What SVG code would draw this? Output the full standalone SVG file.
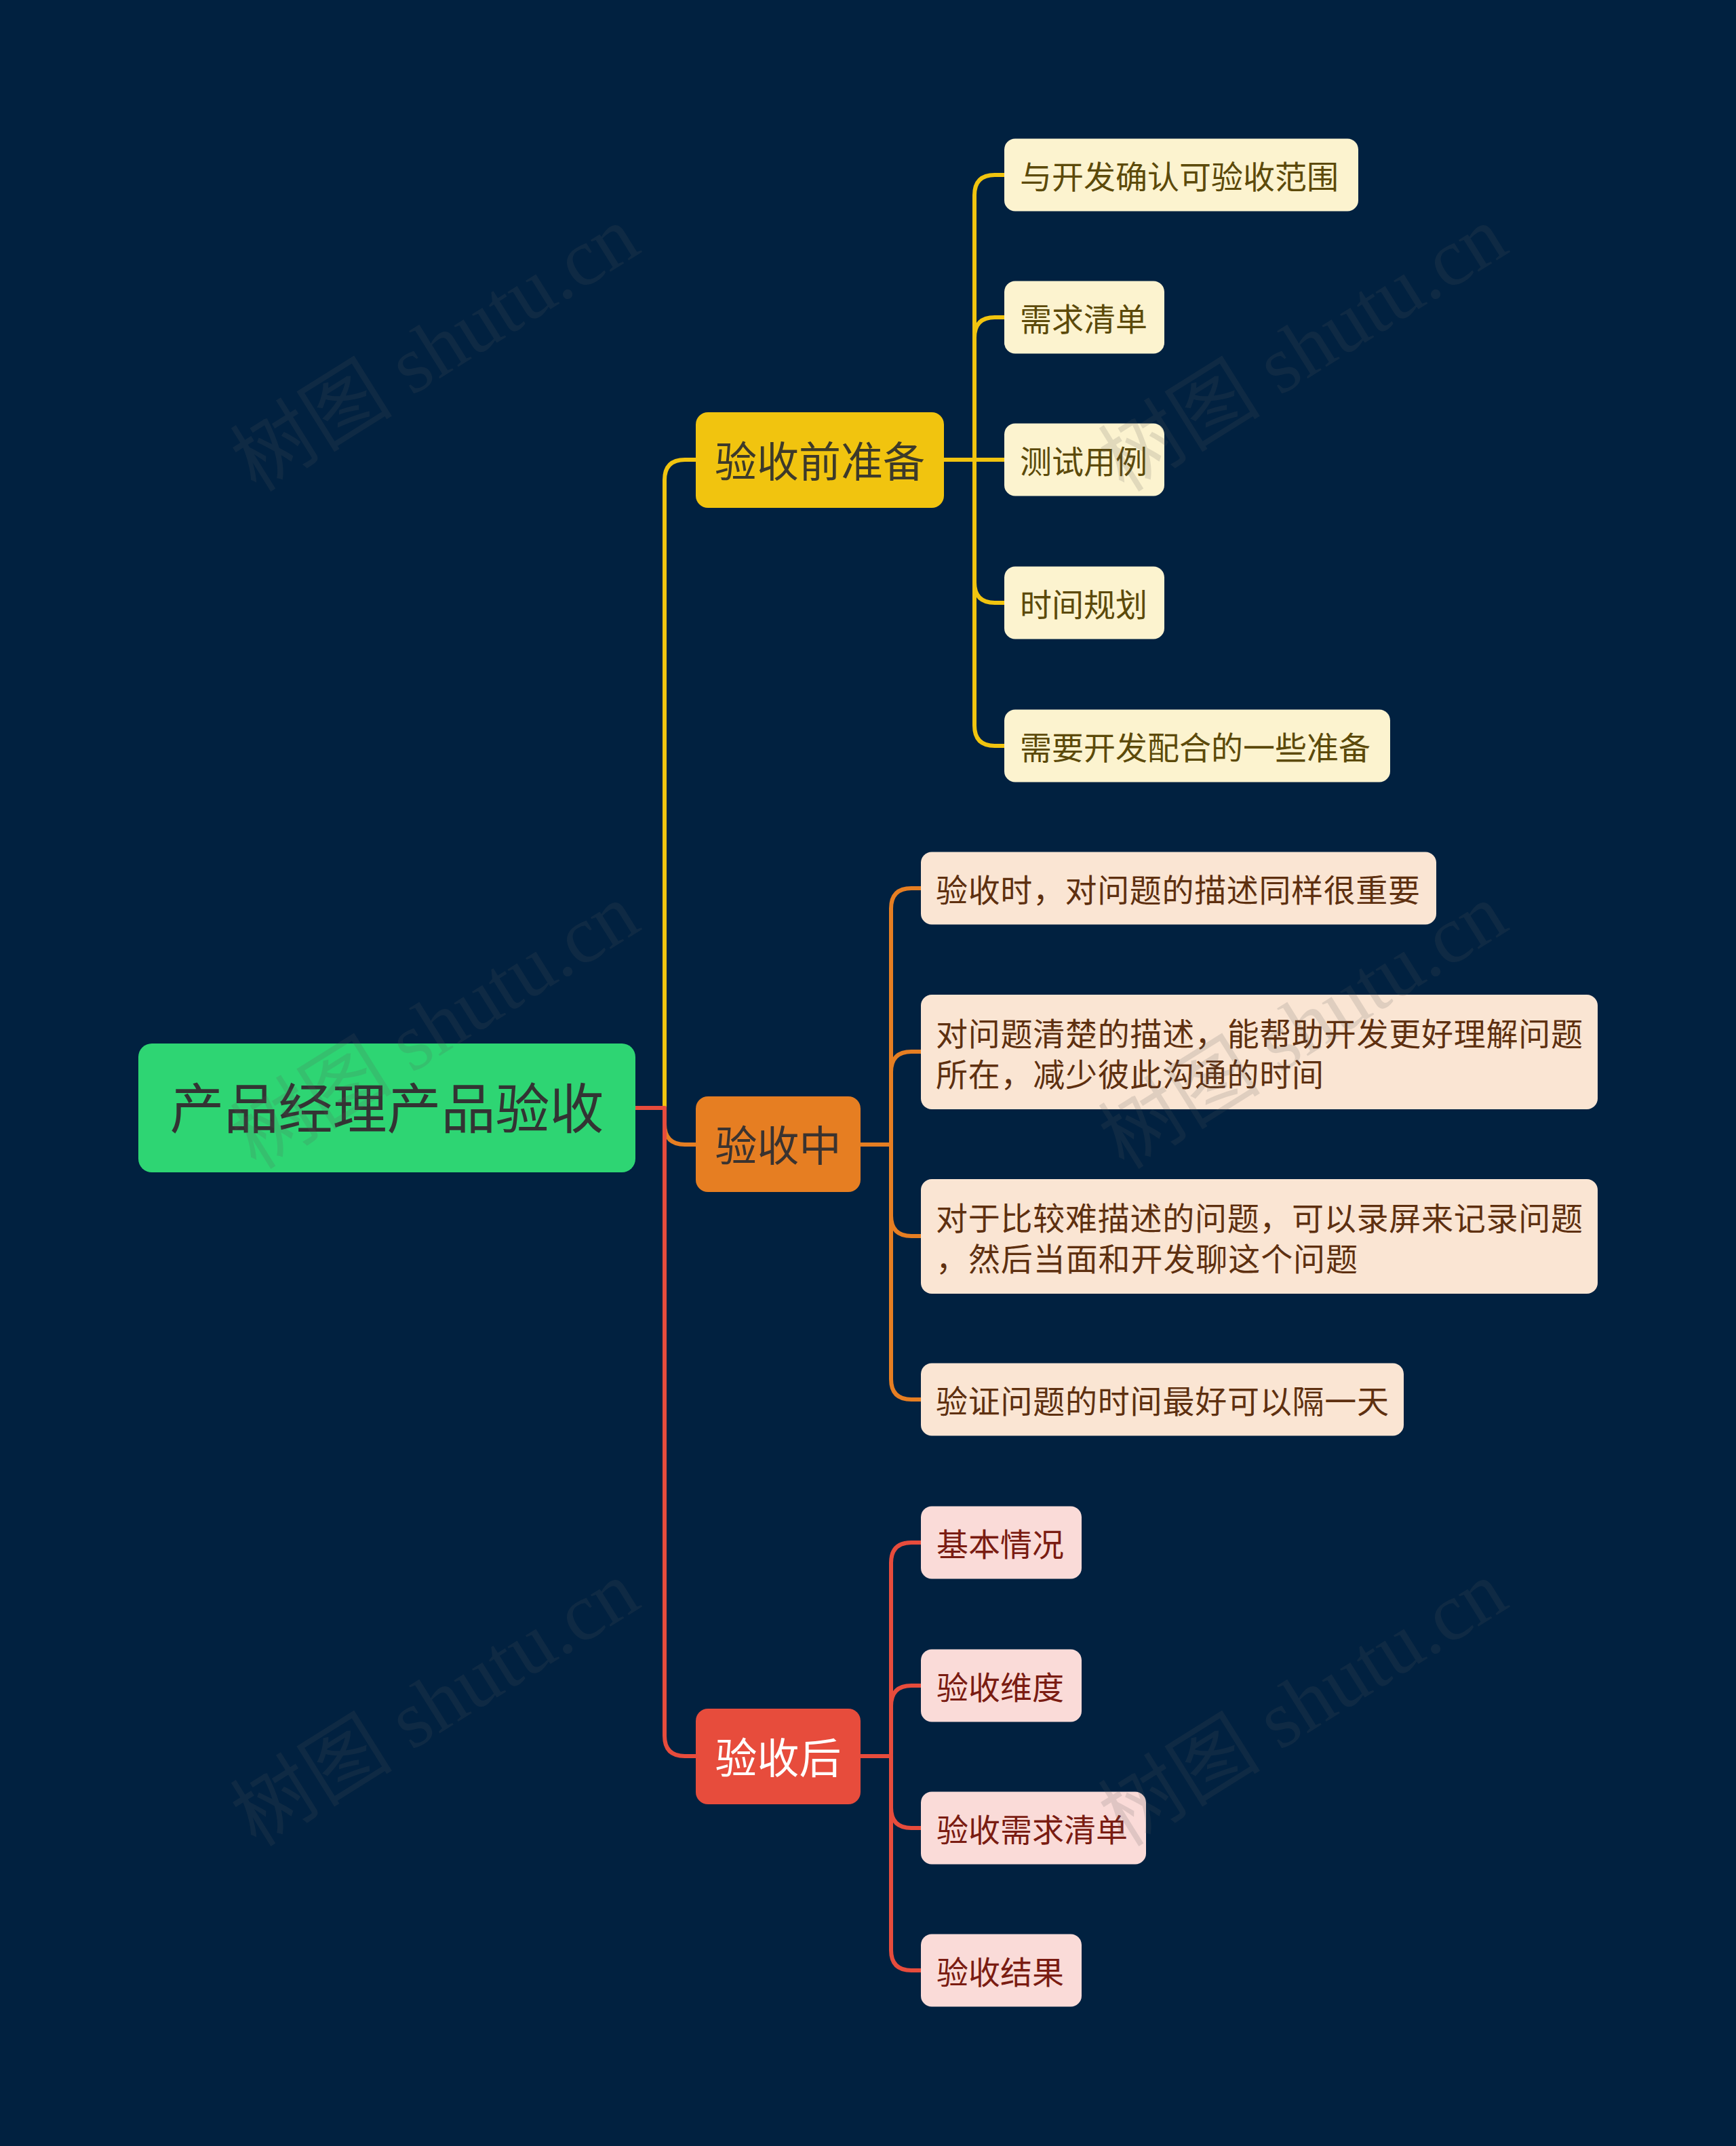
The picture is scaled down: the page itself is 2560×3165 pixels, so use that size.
<svg xmlns="http://www.w3.org/2000/svg" width="2560" height="3165" viewBox="0 0 2560 3165">
<style>
text{font-family:"Noto Sans CJK SC","Noto Sans",sans-serif;}
.root-t{font-size:80px;fill:#333333;text-anchor:middle;}
.main-t{font-size:62px;text-anchor:middle;}
.sub-t{font-size:47px;}
.yc{fill:#fcf3cf;}
.oc{fill:#fae5d3;}
.rc{fill:#fadbd8;}
.yt{fill:#5c4a0a;}
.ot{fill:#5e3010;}
.rt{fill:#7a1c12;}
.conn{fill:none;stroke-width:6;stroke-linecap:round;stroke-linejoin:round;}
.wm{font-family:"Liberation Serif","Noto Sans CJK SC",serif;font-size:120px;fill:#5a5a5a;opacity:0.16;}
</style>
<rect x="0" y="0" width="2560" height="3165" fill="#012140"/>

<g id="connectors">
  <path class="conn" stroke="#f1c40f" d="M937 1634 H980 V708 Q980 678 1010 678 H1026"/>
  <path class="conn" stroke="#e67e22" d="M937 1634 H980 V1658 Q980 1688 1010 1688 H1026"/>
  <path class="conn" stroke="#e74c3c" d="M937 1634 H980 V2560 Q980 2590 1010 2590 H1026"/>
  <g stroke="#f1c40f" class="conn">
    <path class="conn" d="M1392 678 H1437 V288 Q1437 258 1467 258 H1481"/>
    <path class="conn" d="M1392 678 H1437 V498 Q1437 468 1467 468 H1481"/>
    <path class="conn" d="M1392 678 H1481"/>
    <path class="conn" d="M1392 678 H1437 V859 Q1437 889 1467 889 H1481"/>
    <path class="conn" d="M1392 678 H1437 V1070 Q1437 1100 1467 1100 H1481"/>
  </g>
  <g stroke="#e67e22" class="conn">
    <path class="conn" d="M1269 1688 H1314 V1340 Q1314 1310 1344 1310 H1358"/>
    <path class="conn" d="M1269 1688 H1314 V1581 Q1314 1551 1344 1551 H1358"/>
    <path class="conn" d="M1269 1688 H1314 V1793 Q1314 1823 1344 1823 H1358"/>
    <path class="conn" d="M1269 1688 H1314 V2034 Q1314 2064 1344 2064 H1358"/>
  </g>
  <g stroke="#e74c3c" class="conn">
    <path class="conn" d="M1269 2590 H1314 V2305 Q1314 2275 1344 2275 H1358"/>
    <path class="conn" d="M1269 2590 H1314 V2516 Q1314 2486 1344 2486 H1358"/>
    <path class="conn" d="M1269 2590 H1314 V2666 Q1314 2696 1344 2696 H1358"/>
    <path class="conn" d="M1269 2590 H1314 V2876 Q1314 2906 1344 2906 H1358"/>
  </g>
</g>

<g id="root">
  <rect x="204" y="1539" width="733" height="190" rx="20" fill="#2ed573"/>
  <text class="root-t" x="570.5" y="1664">产品经理产品验收</text>
</g>

<g id="b1">
  <rect x="1026" y="608" width="366" height="141" rx="18" fill="#f1c40f"/>
  <text class="main-t" x="1209" y="704" fill="#3d3a2a">验收前准备</text>
</g>
<g id="b2">
  <rect x="1026" y="1617" width="243" height="141" rx="18" fill="#e67e22"/>
  <text class="main-t" x="1147.5" y="1713" fill="#3a3330">验收中</text>
</g>
<g id="b3">
  <rect x="1026" y="2520" width="243" height="141" rx="18" fill="#e74c3c"/>
  <text class="main-t" x="1147.5" y="2616" fill="#ffffff">验收后</text>
</g>

<g id="y1"><rect class="yc" x="1481" y="204.5" width="522" height="107" rx="16"/><text class="sub-t yt" x="1504" y="278">与开发确认可验收范围</text></g>
<g id="y2"><rect class="yc" x="1481" y="414.5" width="236" height="107" rx="16"/><text class="sub-t yt" x="1504" y="488">需求清单</text></g>
<g id="y3"><rect class="yc" x="1481" y="624.5" width="236" height="107" rx="16"/><text class="sub-t yt" x="1504" y="698">测试用例</text></g>
<g id="y4"><rect class="yc" x="1481" y="835.5" width="236" height="107" rx="16"/><text class="sub-t yt" x="1504" y="909">时间规划</text></g>
<g id="y5"><rect class="yc" x="1481" y="1046.5" width="569" height="107" rx="16"/><text class="sub-t yt" x="1504" y="1120">需要开发配合的一些准备</text></g>

<g id="o1"><rect class="oc" x="1358" y="1256.5" width="760" height="107" rx="16"/><text class="sub-t ot" x="1380" y="1330" textLength="714" lengthAdjust="spacing">验收时，对问题的描述同样很重要</text></g>
<g id="o2"><rect class="oc" x="1358" y="1467" width="998" height="169" rx="16"/><text class="sub-t ot" x="1380" y="1542" textLength="954" lengthAdjust="spacing">对问题清楚的描述，能帮助开发更好理解问题</text><text class="sub-t ot" x="1380" y="1602" textLength="572" lengthAdjust="spacing">所在，减少彼此沟通的时间</text></g>
<g id="o3"><rect class="oc" x="1358" y="1739" width="998" height="169" rx="16"/><text class="sub-t ot" x="1380" y="1814" textLength="954" lengthAdjust="spacing">对于比较难描述的问题，可以录屏来记录问题</text><text class="sub-t ot" x="1380" y="1874" textLength="622" lengthAdjust="spacing">，然后当面和开发聊这个问题</text></g>
<g id="o4"><rect class="oc" x="1358" y="2010.5" width="712" height="107" rx="16"/><text class="sub-t ot" x="1380" y="2084" textLength="668" lengthAdjust="spacing">验证问题的时间最好可以隔一天</text></g>

<g id="r1"><rect class="rc" x="1358" y="2221.5" width="237" height="107" rx="16"/><text class="sub-t rt" x="1381" y="2295">基本情况</text></g>
<g id="r2"><rect class="rc" x="1358" y="2432.5" width="237" height="107" rx="16"/><text class="sub-t rt" x="1381" y="2506">验收维度</text></g>
<g id="r3"><rect class="rc" x="1358" y="2642.5" width="332" height="107" rx="16"/><text class="sub-t rt" x="1381" y="2716">验收需求清单</text></g>
<g id="r4"><rect class="rc" x="1358" y="2852.5" width="237" height="107" rx="16"/><text class="sub-t rt" x="1381" y="2926">验收结果</text></g>

<g id="watermarks">
  <text class="wm" transform="translate(642 515) rotate(-32)" text-anchor="middle" y="40">树图 shutu.cn</text>
  <text class="wm" transform="translate(1922 515) rotate(-32)" text-anchor="middle" y="40">树图 shutu.cn</text>
  <text class="wm" transform="translate(642 1514) rotate(-32)" text-anchor="middle" y="40">树图 shutu.cn</text>
  <text class="wm" transform="translate(1922 1514) rotate(-32)" text-anchor="middle" y="40">树图 shutu.cn</text>
  <text class="wm" transform="translate(642 2513) rotate(-32)" text-anchor="middle" y="40">树图 shutu.cn</text>
  <text class="wm" transform="translate(1922 2513) rotate(-32)" text-anchor="middle" y="40">树图 shutu.cn</text>
</g>
</svg>
